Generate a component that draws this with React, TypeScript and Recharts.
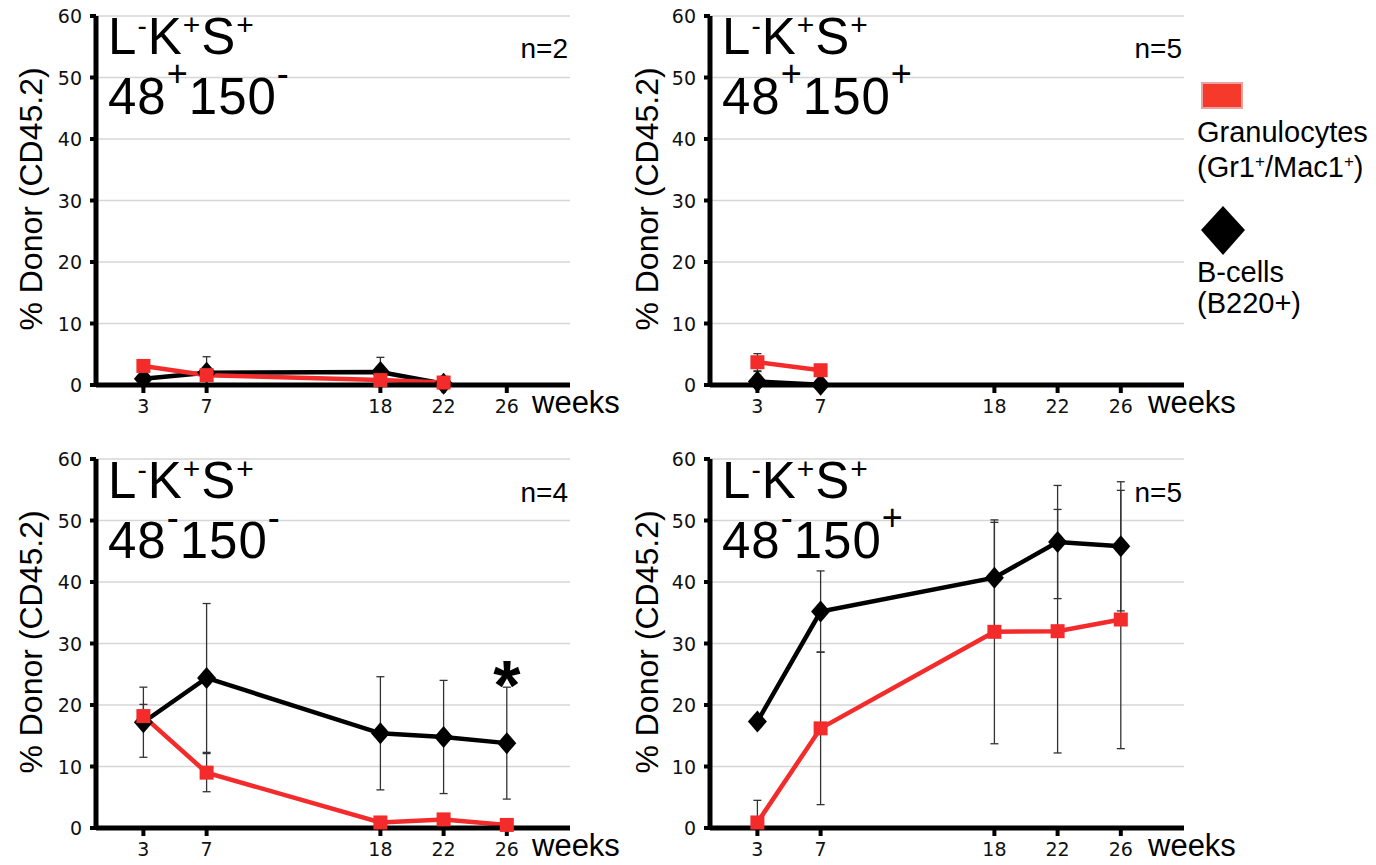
import React from 'react';
import {
  LineChart,
  Line,
  XAxis,
  YAxis,
  CartesianGrid,
  ErrorBar,
  ReferenceDot,
} from 'recharts';

// shared axes
const weeks = [3, 7, 18, 22, 26];
const yTicks = [0, 10, 20, 30, 40, 50, 60];

// L-K+S+ 48+150-  (n=2)
const aBcell = [1.0, 2.0, 2.1, 0.2, null];
const aBcellErr = [null, [2.0, 2.6], [2.1, 2.4], [0.2, 1.2], null];
const aGran = [3.1, 1.6, 0.8, 0.4, null];
const aGranErr = [null, null, null, null, null];

// L-K+S+ 48+150+  (n=5)
const bBcell = [0.55, 0.05, null, null, null];
const bBcellErr = [[0.55, 1.65], null, null, null, null];
const bGran = [3.7, 2.4, null, null, null];
const bGranErr = [1.4, null, null, null, null];

// L-K+S+ 48-150-  (n=4)
const cBcell = [17.2, 24.4, 15.4, 14.8, 13.8];
const cBcellErr = [5.7, 12.1, 9.2, 9.2, 9.1];
const cGran = [18.2, 9.0, 0.9, 1.4, 0.5];
const cGranErr = [1.9, 3.1, null, null, null];

// L-K+S+ 48-150+  (n=5)
const dBcell = [17.3, 35.2, 40.7, 46.5, 45.8];
const dBcellErr = [null, 6.6, 9.0, 9.2, 10.5];
const dGran = [0.9, 16.2, 31.9, 32.0, 33.9];
const dGranErr = [[0.9, 3.6], 12.4, 18.2, 19.8, 21.0];

const RED = '#f42b2b';
const SANS = '"Liberation Sans", Arial, sans-serif';
const TICK_FONT = '"DejaVu Sans", Verdana, sans-serif';

type Err = number | number[] | null;

function buildRows(bcell: (number | null)[], bcellErr: Err[], gran: (number | null)[], granErr: Err[]) {
  return weeks
    .map((week, i) => ({
      week,
      bcell: bcell[i],
      bcellErr: bcellErr[i] ?? undefined,
      gran: gran[i],
      granErr: granErr[i] ?? undefined,
    }))
    .filter((r) => r.bcell != null || r.gran != null);
}

const squareDot = (props: any) => {
  const { cx, cy, index } = props;
  if (cx == null || cy == null) return <g key={`sq-${index}`} />;
  return <rect key={`sq-${index}`} x={cx - 7} y={cy - 7} width={14} height={14} fill={RED} />;
};

const diamondDot = (props: any) => {
  const { cx, cy, index } = props;
  if (cx == null || cy == null) return <g key={`dm-${index}`} />;
  return (
    <polygon
      key={`dm-${index}`}
      points={`${cx},${cy - 11} ${cx + 9.5},${cy} ${cx},${cy + 11} ${cx - 9.5},${cy}`}
      fill="#000"
    />
  );
};

const asterisk = (props: any) => (
  <text
    x={props.cx}
    y={props.cy + 38}
    textAnchor="middle"
    fontFamily={SANS}
    fontWeight="bold"
    fontSize={70}
    fill="#000"
  >
    *
  </text>
);

const XTick = (props: any) => (
  <text
    x={props.x}
    y={props.y + 14}
    textAnchor="middle"
    fontSize={19}
    fontFamily={TICK_FONT}
    fill="#111"
  >
    {props.payload.value}
  </text>
);

const YTick = (props: any) => (
  <text
    x={props.x}
    y={props.y + 7}
    textAnchor="end"
    fontSize={19}
    fontFamily={TICK_FONT}
    fill="#111"
  >
    {props.payload.value}
  </text>
);

interface PanelProps {
  left: number;
  top: number;
  rows: ReturnType<typeof buildRows>;
  star?: boolean;
}

function Panel({ left, top, rows, star }: PanelProps) {
  return (
    <div style={{ position: 'absolute', left, top }}>
      <LineChart
        width={580}
        height={430}
        data={rows}
        margin={{ top: 16, right: 10, left: 0, bottom: 5 }}
      >
        <CartesianGrid vertical={false} stroke="#d6d6d6" strokeWidth={1.5} />
        <XAxis
          type="number"
          dataKey="week"
          domain={[0, 30]}
          ticks={weeks}
          height={40}
          axisLine={{ stroke: '#000', strokeWidth: 5 }}
          tickLine={{ stroke: '#000', strokeWidth: 4 }}
          tickSize={8}
          tickMargin={6}
          tick={XTick}
        />
        <YAxis
          type="number"
          domain={[0, 60]}
          ticks={yTicks}
          width={96}
          axisLine={{ stroke: '#000', strokeWidth: 5 }}
          tickLine={{ stroke: '#000', strokeWidth: 4 }}
          tickSize={6}
          tickMargin={8}
          tick={YTick}
        />
        <Line
          type="linear"
          dataKey="bcell"
          stroke="#000"
          strokeWidth={4.5}
          dot={diamondDot}
          activeDot={false}
          isAnimationActive={false}
        >
          <ErrorBar dataKey="bcellErr" width={4} strokeWidth={1.3} stroke="#333" direction="y" />
        </Line>
        <Line
          type="linear"
          dataKey="gran"
          stroke={RED}
          strokeWidth={4.5}
          dot={squareDot}
          activeDot={false}
          isAnimationActive={false}
        >
          <ErrorBar dataKey="granErr" width={4} strokeWidth={1.3} stroke="#333" direction="y" />
        </Line>
        {star && <ReferenceDot x={26} y={25.4} r={0} shape={asterisk} />}
      </LineChart>
    </div>
  );
}

function Sup({ children, size, dy }: { children: string; size: number; dy: number }) {
  return (
    <>
      <tspan fontSize={size} dy={dy}>
        {children}
      </tspan>
      <tspan dy={-dy}>{'\u200b'}</tspan>
    </>
  );
}

function Title({ x, y, sign48, sign150, n }: { x: number; y: number; sign48: string; sign150: string; n: string }) {
  return (
    <g fontFamily={SANS} fill="#000">
      <text x={x} y={y} fontSize={51} letterSpacing={1}>
        L<Sup size={28} dy={-19}>-</Sup>K<Sup size={30} dy={-19}>+</Sup>S<Sup size={30} dy={-19}>+</Sup>
      </text>
      <text x={x} y={y + 60} fontSize={51} letterSpacing={1}>
        48<Sup size={36} dy={-28}>{sign48}</Sup>150<Sup size={36} dy={-28}>{sign150}</Sup>
      </text>
      <text x={x + 460} y={y + 4} fontSize={28} textAnchor="end">
        {n}
      </text>
    </g>
  );
}

function AxisTexts({ x, y }: { x: number; y: number }) {
  return (
    <g fontFamily={SANS} fill="#000">
      <text x={x + 42} y={y + 199} fontSize={32} textAnchor="middle" transform={`rotate(-90 ${x + 42} ${y + 199})`}>
        % Donor (CD45.2)
      </text>
      <text x={x + 532} y={y + 413} fontSize={31}>
        weeks
      </text>
    </g>
  );
}

export default function App() {
  const rowsA = buildRows(aBcell, aBcellErr, aGran, aGranErr);
  const rowsB = buildRows(bBcell, bBcellErr, bGran, bGranErr);
  const rowsC = buildRows(cBcell, cBcellErr, cGran, cGranErr);
  const rowsD = buildRows(dBcell, dBcellErr, dGran, dGranErr);

  return (
    <div
      style={{
        position: 'absolute',
        left: 0,
        top: 0,
        width: 1376,
        height: 865,
        background: '#fff',
        overflow: 'hidden',
      }}
    >
      <Panel left={0} top={0} rows={rowsA} />
      <Panel left={614} top={0} rows={rowsB} />
      <Panel left={0} top={443} rows={rowsC} star />
      <Panel left={614} top={443} rows={rowsD} />

      <svg
        width={1376}
        height={865}
        style={{ position: 'absolute', left: 0, top: 0, pointerEvents: 'none' }}
      >
        <AxisTexts x={0} y={0} />
        <AxisTexts x={616} y={0} />
        <AxisTexts x={0} y={443} />
        <AxisTexts x={616} y={443} />

        <Title x={108} y={54} sign48="+" sign150="-" n="n=2" />
        <Title x={722} y={54} sign48="+" sign150="+" n="n=5" />
        <Title x={108} y={498} sign48="-" sign150="-" n="n=4" />
        <Title x={722} y={498} sign48="-" sign150="+" n="n=5" />

        {/* legend */}
        <rect x={1202} y={83} width={40} height={25} fill="#f5392a" stroke="#e9a3a3" strokeWidth={2} />
        <g fontFamily={SANS} fontSize={29} fill="#000">
          <text x={1197} y={142}>Granulocytes</text>
          <text x={1197} y={177}>
            (Gr1<Sup size={17} dy={-10}>+</Sup>/Mac1<Sup size={17} dy={-10}>+</Sup>)
          </text>
        </g>
        <polygon points="1223,206 1245,230 1223,255 1201,230" fill="#000" />
        <g fontFamily={SANS} fontSize={29} fill="#000">
          <text x={1197} y={282}>B-cells</text>
          <text x={1197} y={313}>(B220+)</text>
        </g>
      </svg>
    </div>
  );
}
